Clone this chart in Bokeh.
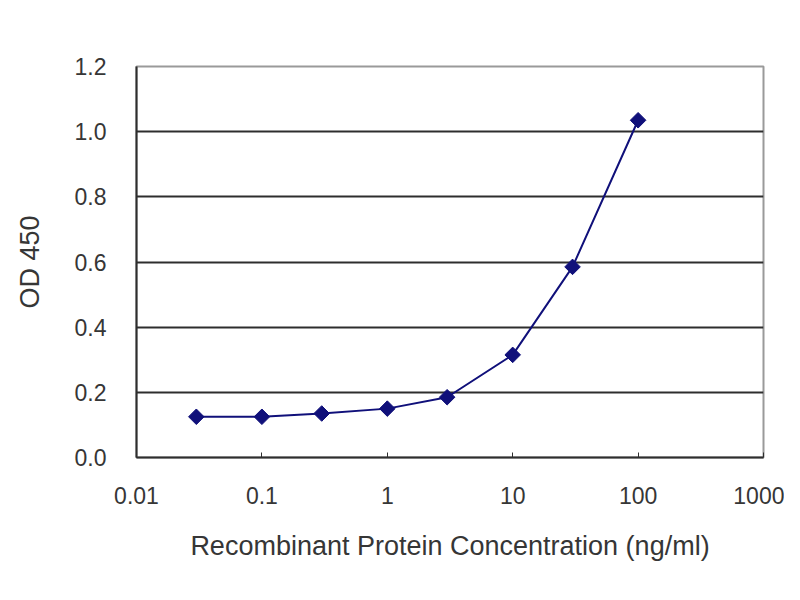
import math
from bokeh.plotting import figure
from bokeh.models import Range1d, FixedTicker
from bokeh.embed import file_html
from bokeh.resources import INLINE

# Data
concentration = [0.03, 0.1, 0.3, 1, 3, 10, 30, 100]
od450 = [0.125, 0.125, 0.135, 0.15, 0.185, 0.315, 0.585, 1.035]

x_ticks = [0.01, 0.1, 1, 10, 100, 1000]
x_tick_labels = ["0.01", "0.1", "1", "10", "100", "1000"]
y_ticks = [0.0, 0.2, 0.4, 0.6, 0.8, 1.0, 1.2]
y_tick_labels = ["0.0", "0.2", "0.4", "0.6", "0.8", "1.0", "1.2"]

FONT = "Liberation Sans"
TEXT = "#363636"
NAVY = "#10107a"

p = figure(width=784, height=584, x_axis_type="log",
           x_range=Range1d(0.01, 1000), y_range=Range1d(0, 1.2),
           output_backend="svg", toolbar_location=None,
           min_border_left=136, min_border_top=66,
           min_border_right=21, min_border_bottom=127)

p.background_fill_color = "white"
p.border_fill_color = "white"
p.outline_line_color = "#9a9a9a"
p.outline_line_width = 2

# grid
p.xgrid.visible = False
p.ygrid.ticker = FixedTicker(ticks=y_ticks[1:-1])
p.ygrid.grid_line_color = "#2e2e2e"
p.ygrid.grid_line_width = 2

# x axis
xa = p.xaxis[0]
xa.ticker = FixedTicker(ticks=x_ticks)
xa.major_label_overrides = dict(zip(x_ticks, x_tick_labels))
xa.minor_tick_line_color = None
xa.major_tick_in = 5
xa.major_tick_out = 0
xa.major_tick_line_color = "#2e2e2e"
xa.axis_line_color = "#2e2e2e"
xa.axis_line_width = 2
xa.major_label_text_font = FONT
xa.major_label_text_font_size = "23px"
xa.major_label_text_color = TEXT
xa.major_label_standoff = 29
xa.axis_label = "Recombinant Protein Concentration (ng/ml)"
xa.axis_label_text_font = FONT
xa.axis_label_text_font_size = "27px"
xa.axis_label_text_font_style = "normal"
xa.axis_label_text_color = TEXT
xa.axis_label_standoff = 24

# y axis
ya = p.yaxis[0]
ya.ticker = FixedTicker(ticks=y_ticks)
ya.major_label_overrides = dict(zip(y_ticks, y_tick_labels))
ya.minor_tick_line_color = None
ya.major_tick_in = 0
ya.major_tick_out = 0
ya.axis_line_color = "#2e2e2e"
ya.axis_line_width = 2
ya.major_label_text_font = FONT
ya.major_label_text_font_size = "23px"
ya.major_label_text_color = TEXT
ya.major_label_standoff = 30
ya.axis_label = "OD 450"
ya.axis_label_text_font = FONT
ya.axis_label_text_font_size = "27px"
ya.axis_label_text_font_style = "normal"
ya.axis_label_text_color = TEXT
ya.axis_label_standoff = 27

p.line(concentration, od450, line_color=NAVY, line_width=2)
p.scatter(concentration, od450, marker="square", size=11, angle=math.pi / 4,
          fill_color=NAVY, line_color=NAVY)

open("out.html", "w").write(file_html(p, INLINE))
